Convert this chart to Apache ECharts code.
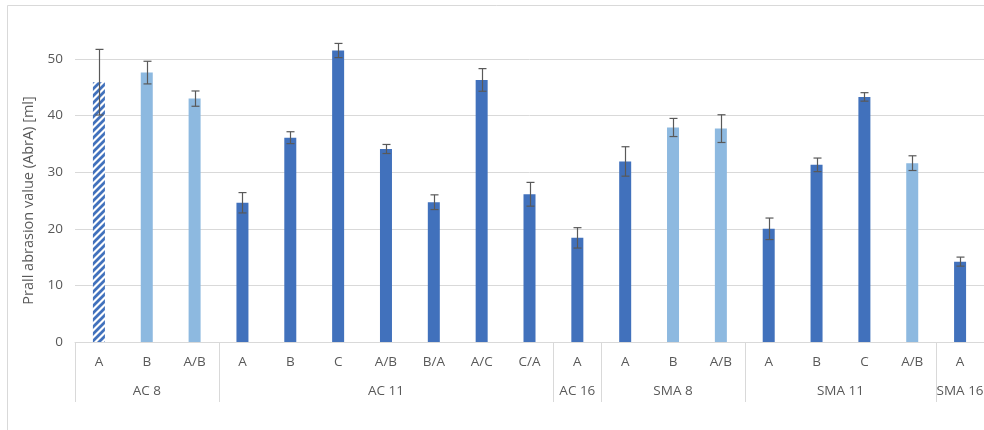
<!DOCTYPE html>
<html>
<head>
<meta charset="utf-8">
<script src="https://cdn.jsdelivr.net/npm/echarts@6/dist/echarts.min.js"></script>
<style>html,body{margin:0;padding:0;background:#fff}#c{width:984px;height:430px}</style>
</head>
<body>
<div id="c"></div>
<script>
const categories = ['A','B','A/B','A','B','C','A/B','B/A','A/C','C/A','A','A','B','A/B','A','B','C','A/B','A'];
const groups = ['AC 8','AC 11','AC 16','SMA 8','SMA 11','SMA 16'];
const groupSizes = [3,7,1,3,4,1];
const values = [45.9,47.6,43.0,24.6,36.1,51.5,34.1,24.7,46.3,26.1,18.4,31.9,37.9,37.7,20.0,31.3,43.3,31.6,14.2];
const errors = [5.8,2.0,1.35,1.8,1.05,1.25,0.8,1.3,2.0,2.1,1.8,2.6,1.6,2.45,1.9,1.2,0.75,1.3,0.8];
const fills = ['hatched','light','light','dark','dark','dark','dark','dark','dark','dark','dark','dark','light','light','dark','dark','dark','light','dark'];

const DARK = '#4171BC', LIGHT = '#8DB9E0', TXT = '#595959', LINE = '#D9D9D9';
const FONT = 'Open Sans', FS = 13.5;

function hatch() {
  const s = 7, c = document.createElement('canvas');
  c.width = s; c.height = s;
  const g = c.getContext('2d');
  g.fillStyle = '#fff'; g.fillRect(0,0,s,s);
  g.strokeStyle = DARK; g.lineWidth = 2.8; g.lineCap = 'square';
  g.beginPath();
  g.moveTo(-1, s+1); g.lineTo(s+1, -1);
  g.moveTo(-2, 2); g.lineTo(2, -2);
  g.moveTo(s-2, s+2); g.lineTo(s+2, s-2);
  g.stroke();
  return {image: c, repeat: 'repeat'};
}
const colorOf = {dark: DARK, light: LIGHT, hatched: hatch()};

const barData = values.map((v,i)=>({value: v, itemStyle: {color: colorOf[fills[i]]}}));
const errData = values.map((v,i)=>[i, v - errors[i], v + errors[i]]);
let start = 0;
const groupData = groups.map((g,i)=>{ const d = [start, start + groupSizes[i] - 1, g]; start += groupSizes[i]; return d; });

const chart = echarts.init(document.getElementById('c'), null, {renderer: 'canvas'});
chart.setOption({
  animation: false,
  backgroundColor: '#fff',
  textStyle: {fontFamily: FONT},
  graphic: [{type:'rect', shape:{x:7.5, y:5.5, width:1200, height:600}, style:{fill:'none', stroke:LINE, lineWidth:1}, silent:true, z:-1}],
  grid: {left: 75, right: -1, top: 59, bottom: 88, containLabel: false},
  xAxis: {
    type: 'category', data: categories,
    axisLine: {show: true, lineStyle: {color: LINE, width: 1}},
    axisTick: {show: false},
    axisLabel: {color: TXT, fontSize: FS, margin: 13, interval: 0}
  },
  yAxis: {
    type: 'value', min: 0, max: 50, interval: 10,
    name: 'Prall abrasion value (AbrA) [ml]', nameLocation: 'middle', nameGap: 37, nameRotate: 90,
    nameTextStyle: {color: TXT, fontSize: 14.5},
    axisLine: {show: false}, axisTick: {show: false},
    axisLabel: {color: TXT, fontSize: FS, margin: 12},
    splitLine: {lineStyle: {color: LINE, width: 1}}
  },
  series: [
    {type: 'bar', data: barData, barWidth: 12, z: 2, clip: false},
    {type: 'custom', data: errData, clip: false, z: 3,
      renderItem: function(params, api){
        const x = Math.round(api.coord([api.value(0), api.value(2)])[0]) + 0.5;
        const yl = api.coord([api.value(0), api.value(1)])[1];
        const yh = api.coord([api.value(0), api.value(2)])[1];
        const st = {stroke: '#595959', lineWidth: 1.2};
        const w = 4;
        return {type:'group', children:[
          {type:'line', shape:{x1:x, y1:yl, x2:x, y2:yh}, style:st},
          {type:'line', shape:{x1:x-w, y1:yl, x2:x+w, y2:yl}, style:st},
          {type:'line', shape:{x1:x-w, y1:yh, x2:x+w, y2:yh}, style:st}
        ]};
      }
    },
    {type: 'custom', data: groupData, clip: false, z: 3, silent: true,
      renderItem: function(params, api){
        const band = api.size([1, 0])[0];
        const x0 = api.coord([api.value(0), 0])[0] - band/2;
        const x1 = api.coord([api.value(1), 0])[0] + band/2;
        const y0 = api.coord([api.value(0), 0])[1];
        const name = groupData[params.dataIndex][2];
        return {type:'group', children:[
          {type:'line', shape:{x1:Math.round(x0)+0.5, y1:y0, x2:Math.round(x0)+0.5, y2:y0+60}, style:{stroke:LINE, lineWidth:1}},
          {type:'line', shape:{x1:Math.round(x1)+0.5, y1:y0, x2:Math.round(x1)+0.5, y2:y0+60}, style:{stroke:LINE, lineWidth:1}},
          {type:'text', style:{x:(x0+x1)/2, y:y0+49, text:name, fill:TXT, fontSize:FS, fontFamily:FONT, align:'center', verticalAlign:'middle'}}
        ]};
      }
    }
  ]
});
</script>
</body>
</html>
